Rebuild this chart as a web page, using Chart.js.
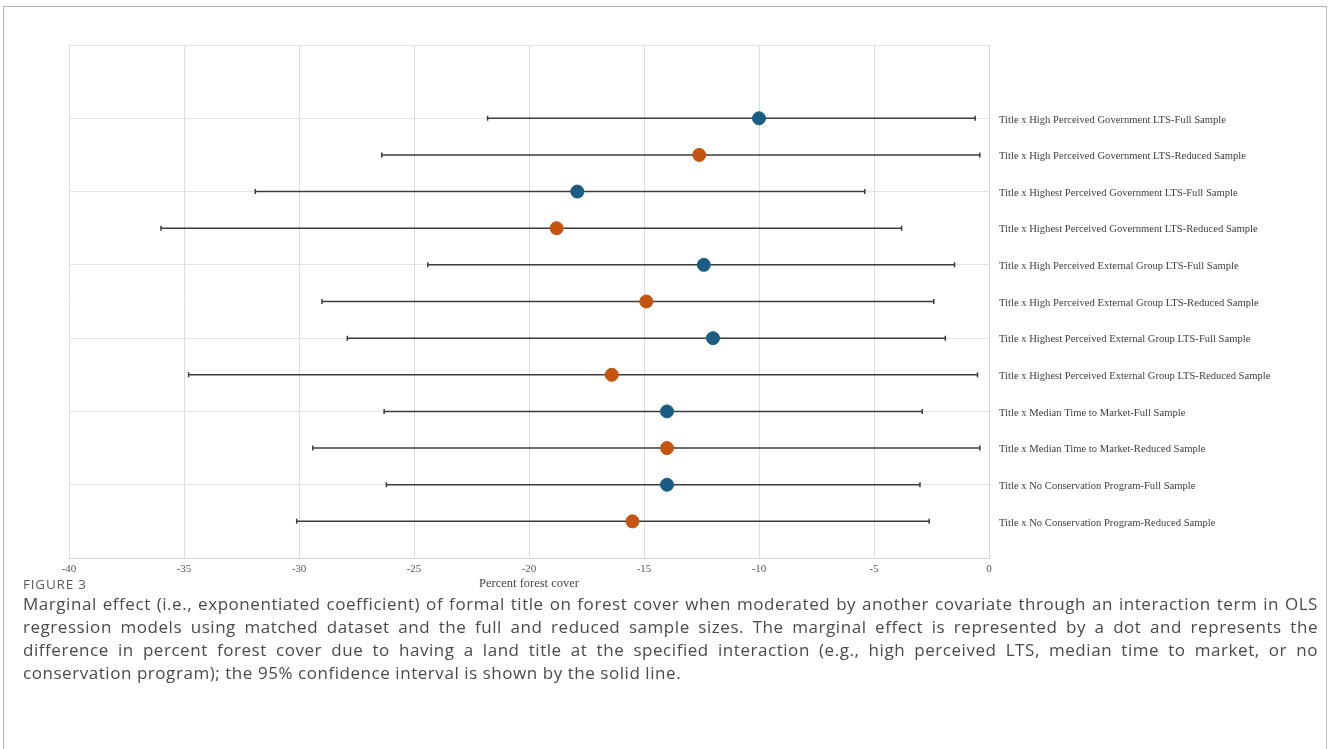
<!DOCTYPE html>
<html>
<head>
<meta charset="utf-8">
<script src="https://cdn.jsdelivr.net/npm/chart.js@4/dist/chart.umd.min.js"></script>
<style>
  html, body { margin: 0; padding: 0; background: #fff; }
  body { width: 1328px; height: 749px; position: relative; overflow: hidden; }
  .frame { position: absolute; left: 3px; top: 6px; width: 1322px; height: 780px;
           border: 1.5px solid #b5b5b5; border-bottom: none; }
  #chart { position: absolute; left: 0; top: 0; }
  .fig { position: absolute; left: 23px; top: 576px; font-family: "Open Sans", sans-serif;
         font-size: 13.5px; letter-spacing: 0.8px; line-height: 16px; color: #5a5a5a; }
  .caption { position: absolute; left: 23px; top: 592px; width: 1295px; font-family: "Open Sans", sans-serif;
             font-size: 17px; letter-spacing: 0.55px; line-height: 23px; color: #4a4a4a; }
  .caption div { white-space: nowrap; text-align: justify; text-align-last: justify; }
  .caption div.last { text-align: left; text-align-last: left; }
</style>
</head>
<body>
<div class="frame"></div>
<canvas id="chart" width="1328" height="600"></canvas>
<div class="fig">FIGURE 3</div>
<div class="caption">
  <div>Marginal effect (i.e., exponentiated coefficient) of formal title on forest cover when moderated by another covariate through an interaction term in OLS</div>
  <div>regression models using matched dataset and the full and reduced sample sizes. The marginal effect is represented by a dot and represents the</div>
  <div>difference in percent forest cover due to having a land title at the specified interaction (e.g., high perceived LTS, median time to market, or no</div>
  <div class="last">conservation program); the 95% confidence interval is shown by the solid line.</div>
</div>
<script>
// rows, top to bottom
const categories = [
  "Title x High Perceived Government LTS-Full Sample",
  "Title x High Perceived Government LTS-Reduced Sample",
  "Title x Highest Perceived Government LTS-Full Sample",
  "Title x Highest Perceived Government LTS-Reduced Sample",
  "Title x High Perceived External Group LTS-Full Sample",
  "Title x High Perceived External Group LTS-Reduced Sample",
  "Title x Highest Perceived External Group LTS-Full Sample",
  "Title x Highest Perceived External Group LTS-Reduced Sample",
  "Title x Median Time to Market-Full Sample",
  "Title x Median Time to Market-Reduced Sample",
  "Title x No Conservation Program-Full Sample",
  "Title x No Conservation Program-Reduced Sample"
];
const sample = ["Full", "Reduced", "Full", "Reduced", "Full", "Reduced", "Full", "Reduced", "Full", "Reduced", "Full", "Reduced"];
const estimates = [-10.0, -12.6, -17.9, -18.8, -12.4, -14.9, -12.0, -16.4, -14.0, -14.0, -14.0, -15.5];
const lower = [-21.8, -26.4, -31.9, -36.0, -24.4, -29.0, -27.9, -34.8, -26.3, -29.4, -26.2, -30.1];
const upper = [-0.6, -0.4, -5.4, -3.8, -1.5, -2.4, -1.9, -0.5, -2.9, -0.4, -3.0, -2.6];
const xTicks = [-40, -35, -30, -25, -20, -15, -10, -5, 0];

const rowValue = i => categories.length - i;

function points(kind) {
  const out = [];
  categories.forEach((c, i) => {
    if (sample[i] === kind) out.push({ x: estimates[i], y: rowValue(i) });
  });
  return out;
}

const whiskers = {
  id: 'whiskers',
  beforeDatasetsDraw(chart) {
    const { ctx, scales: { x, y } } = chart;
    ctx.save();
    ctx.strokeStyle = '#3c3c3c';
    ctx.lineWidth = 1.5;
    categories.forEach((c, i) => {
      const py = y.getPixelForValue(rowValue(i));
      const x1 = x.getPixelForValue(lower[i]);
      const x2 = x.getPixelForValue(upper[i]);
      ctx.beginPath();
      ctx.moveTo(x1, py); ctx.lineTo(x2, py);
      ctx.moveTo(x1, py - 2.5); ctx.lineTo(x1, py + 2.5);
      ctx.moveTo(x2, py - 2.5); ctx.lineTo(x2, py + 2.5);
      ctx.stroke();
    });
    ctx.restore();
  }
};

new Chart(document.getElementById('chart'), {
  type: 'scatter',
  data: {
    datasets: [
      { label: 'Full Sample', data: points('Full'), backgroundColor: '#1a5d84', borderColor: '#1a5d84',
        pointRadius: 6.5, pointHoverRadius: 6.5 },
      { label: 'Reduced Sample', data: points('Reduced'), backgroundColor: '#c4540f', borderColor: '#c4540f',
        pointRadius: 6.5, pointHoverRadius: 6.5 }
    ]
  },
  options: {
    responsive: false,
    animation: false,
    devicePixelRatio: 1,
    layout: { padding: { left: 69, top: 45, right: 0, bottom: 0 } },
    plugins: { legend: { display: false }, tooltip: { enabled: false } },
    scales: {
      x: {
        type: 'linear', min: xTicks[0], max: xTicks[xTicks.length - 1],
        afterBuildTicks: s => { s.ticks = xTicks.map(v => ({ value: v })); },
        afterFit: s => { s.height = 42; },
        grid: { color: '#dcdcdc', drawTicks: false },
        border: { color: '#d6d6d6' },
        ticks: { padding: 5, color: '#555', font: { family: 'Liberation Serif', size: 11 } },
        title: { display: true, text: 'Percent forest cover', color: '#444',
                 font: { family: 'Liberation Serif', size: 12.5 }, padding: { top: 0, bottom: 9 } }
      },
      y: {
        type: 'linear', position: 'right', min: 0, max: 14,
        afterFit: s => { s.width = 339; },
        grid: { drawTicks: false, color: c => (c.tick && c.tick.value % 2 === 0) ? '#e3e3e3' : 'rgba(0,0,0,0)' },
        border: { color: '#d6d6d6' },
        ticks: {
          stepSize: 1, autoSkip: false, padding: 10, labelOffset: 1.5, color: '#404040',
          font: { family: 'Liberation Serif', size: 10.6 },
          callback: v => (v >= 1 && v <= categories.length) ? categories[categories.length - v] : ''
        }
      }
    }
  },
  plugins: [whiskers]
});
</script>
</body>
</html>
